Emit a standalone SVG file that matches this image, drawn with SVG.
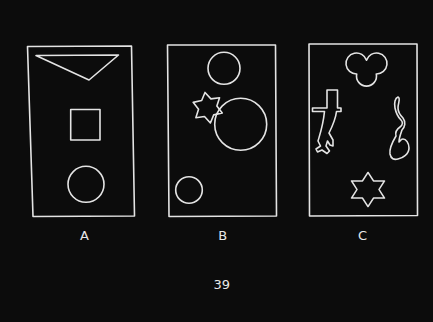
<svg xmlns="http://www.w3.org/2000/svg" width="433" height="322" viewBox="0 0 433 322">
<style>
.ln{fill:none;stroke:#e4e4e4;stroke-width:1.6;stroke-linejoin:round}
.lb{font-family:"DejaVu Sans","Liberation Sans",sans-serif;font-size:13px;fill:#e8e8e8;text-anchor:middle}
</style>
<rect width="433" height="322" fill="#0c0c0c"/>
<g id="panelA">
<polygon class="ln" points="27.5,46.5 131.5,46 134.5,216 33,216.5"/>
<polygon class="ln" points="36,55.5 118.5,55 89,80"/>
<rect class="ln" x="70.7" y="109.5" width="29.3" height="30.5"/>
<circle class="ln" cx="86" cy="184.3" r="18"/>
<text class="lb" x="84.5" y="240">A</text>
</g>
<g id="panelB">
<polygon class="ln" points="167.5,45 275.5,45 276.5,216 169,216.5"/>
<circle class="ln" cx="224" cy="68.3" r="16"/>
<circle class="ln" cx="240.7" cy="124.3" r="26"/>
<circle class="ln" cx="189" cy="190" r="13.3"/>
<polygon class="ln" transform="translate(207.7,107.7) rotate(-10)" points="0,-15.5 4.7,-8.1 13.4,-7.8 9.3,0 13.4,7.8 4.7,8.1 0,15.5 -4.7,8.1 -13.4,7.8 -9.3,0 -13.4,-7.8 -4.7,-8.1"/>
<text class="lb" x="222.7" y="240">B</text>
</g>
<g id="panelC">
<polygon class="ln" points="309,44 417,44 417.5,215.5 309.5,216"/>
<path class="ln" d="M366.5,60.3 A10.5,10.5 0 1 0 356.72,74 A10,10 0 1 0 376.28,74 A10.5,10.5 0 1 0 366.5,60.3 Z"/>
<path class="ln" d="M312.5,108 L327,108 L327,90 L337.5,90 L337.5,108 L341,108 L341,111.5 L336.5,111.5 C335.5,120 332,127 329,133 L333,140 L333,146 L330,145 L327.5,141 L326,146 L329.5,151 L327,153.5 L322,150 L317.5,152 L316,149 L320.5,146 L318,141 C320,134 323,126 324.5,111.5 L312.5,111.5 Z"/>
<path class="ln" d="M398,97 C395,98 394,103 395,108 C396,113 398,117 401,120 C403,122 403,125 400,127 C397,129 395,132 396,136 C393,141 389,148 390,154 C391,159 394,160 398,159 C403,158 409,154 409,148 C409,143 406,139 403,139 C401,139 400,141 399,142 C399,138 401,133 402,130 C405,127 406,122 403,118 C400,115 398,112 398,108 C398,103 401,98 398,97 Z"/>
<polygon class="ln" transform="translate(368,189.5) scale(1,0.9)" points="0,-19 5.5,-9.5 16.5,-9.5 11,0 16.5,9.5 5.5,9.5 0,19 -5.5,9.5 -16.5,9.5 -11,0 -16.5,-9.5 -5.5,-9.5"/>
<text class="lb" x="362.5" y="240">C</text>
</g>
<text class="lb" x="221.7" y="288.5">39</text>
</svg>
